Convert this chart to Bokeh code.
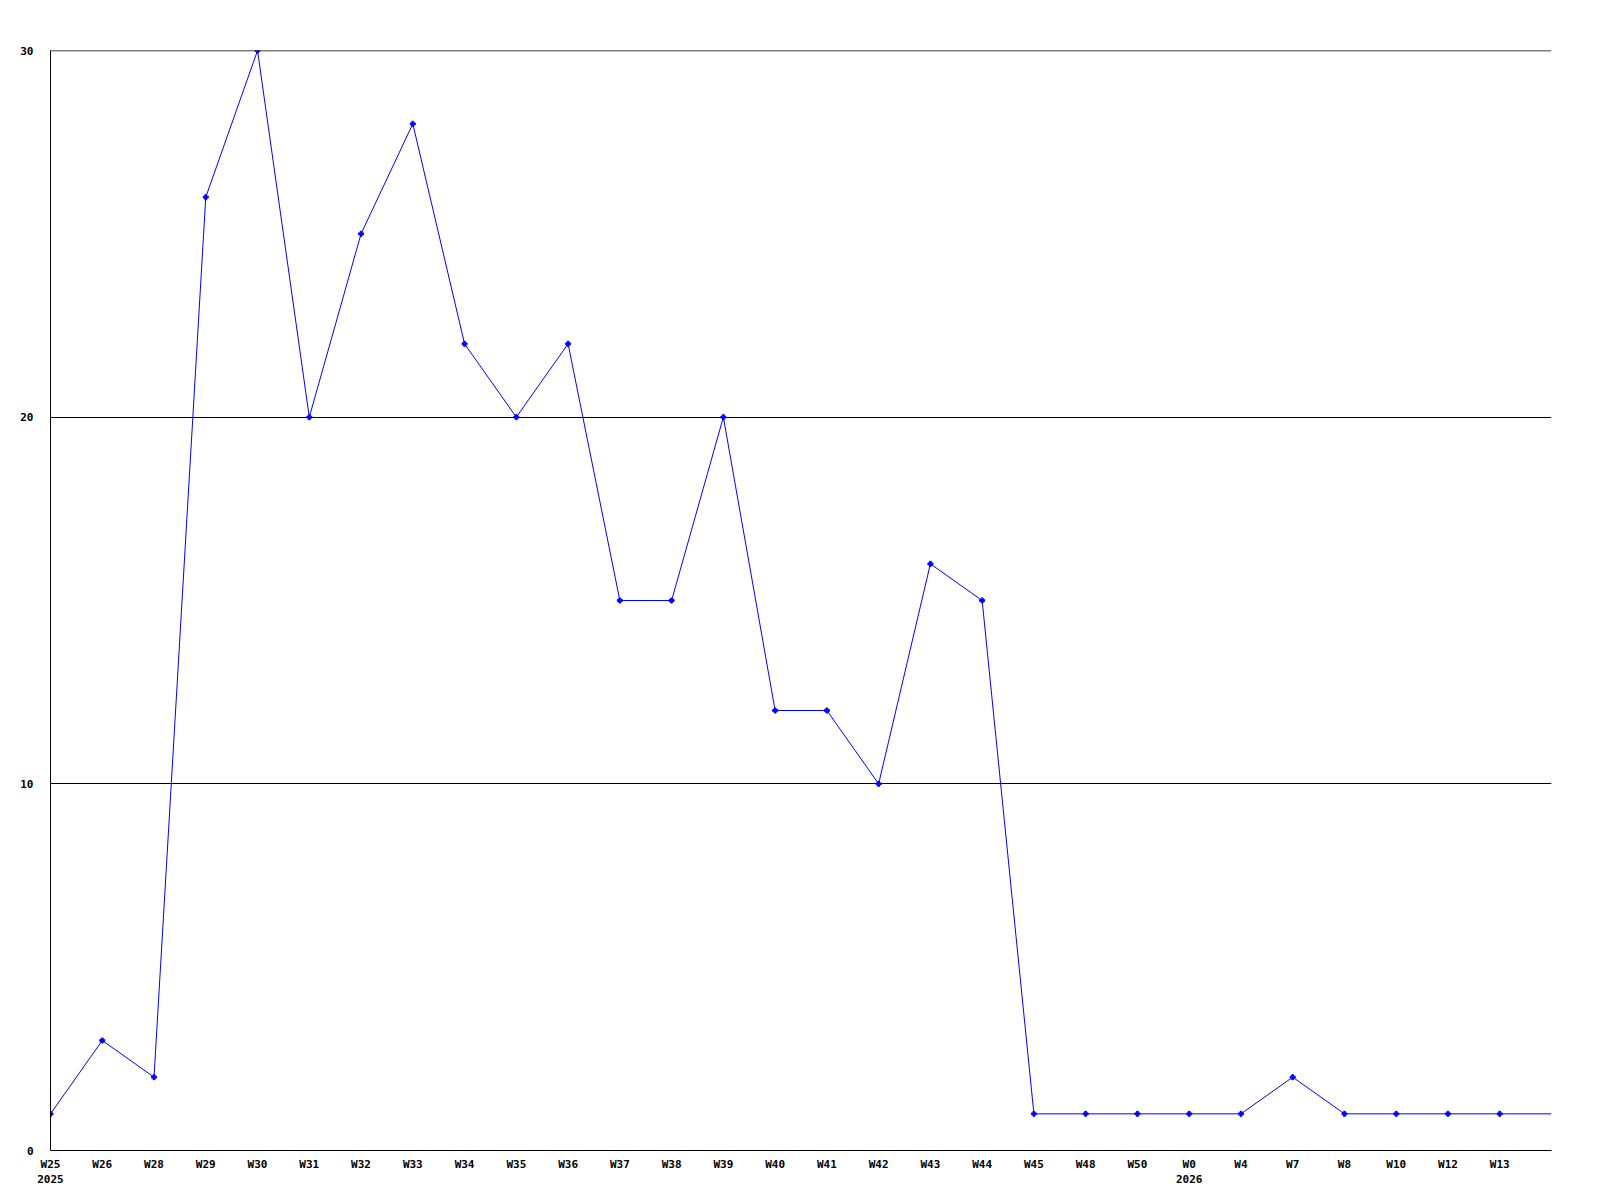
from bokeh.plotting import figure
from bokeh.models import Range1d, FixedTicker, Span
from bokeh.embed import file_html
from bokeh.resources import INLINE

weeks = ["W25", "W26", "W28", "W29", "W30", "W31", "W32", "W33", "W34", "W35",
         "W36", "W37", "W38", "W39", "W40", "W41", "W42", "W43", "W44", "W45",
         "W48", "W50", "W0", "W4", "W7", "W8", "W10", "W12", "W13", ""]
years = {0: "2025", 22: "2026"}
values = [1, 3, 2, 26, 30, 20, 25, 28, 22, 20,
          22, 15, 15, 20, 12, 12, 10, 16, 15, 1,
          1, 1, 1, 1, 2, 1, 1, 1, 1, 1]
y_ticks = [0, 10, 20, 30]

xs = list(range(len(values)))

p = figure(frame_width=1501, frame_height=1100,
           x_range=Range1d(0, len(values) - 1), y_range=Range1d(0, 30),
           output_backend="svg", toolbar_location=None,
           min_border_left=50, min_border_top=50, min_border_right=20, min_border_bottom=10)
p.outline_line_color = None
p.background_fill_color = "white"
p.border_fill_color = "white"

p.line(xs, values, line_color="#0000ff", line_width=1)
p.scatter(xs[:-1], values[:-1], marker="plus", size=5, color="#0000ff")

labels = {}
for i, w in enumerate(weeks):
    labels[i] = w + ("\n" + years[i] if i in years else "")

p.xaxis.ticker = FixedTicker(ticks=xs)
p.xaxis.major_label_overrides = labels
p.yaxis.ticker = FixedTicker(ticks=y_ticks)

for ax in (p.xaxis[0], p.yaxis[0]):
    ax.axis_line_color = "black"
    ax.axis_line_width = 1
    ax.major_tick_in = 0
    ax.major_tick_out = 0
    ax.minor_tick_in = 0
    ax.minor_tick_out = 0
    ax.major_label_text_font = "DejaVu Sans Mono"
    ax.major_label_text_font_style = "bold"
    ax.major_label_text_font_size = "11px"
    ax.major_label_text_color = "black"
p.xaxis.major_label_standoff = 7
p.yaxis.major_label_standoff = 17

p.xgrid.grid_line_color = None
p.ygrid.ticker = FixedTicker(ticks=y_ticks)
p.ygrid.grid_line_color = "black"
p.ygrid.grid_line_width = 1
p.add_layout(Span(location=y_ticks[-1], dimension="width", line_color="black", line_width=1.5))

open("out.html", "w").write(file_html(p, INLINE))
